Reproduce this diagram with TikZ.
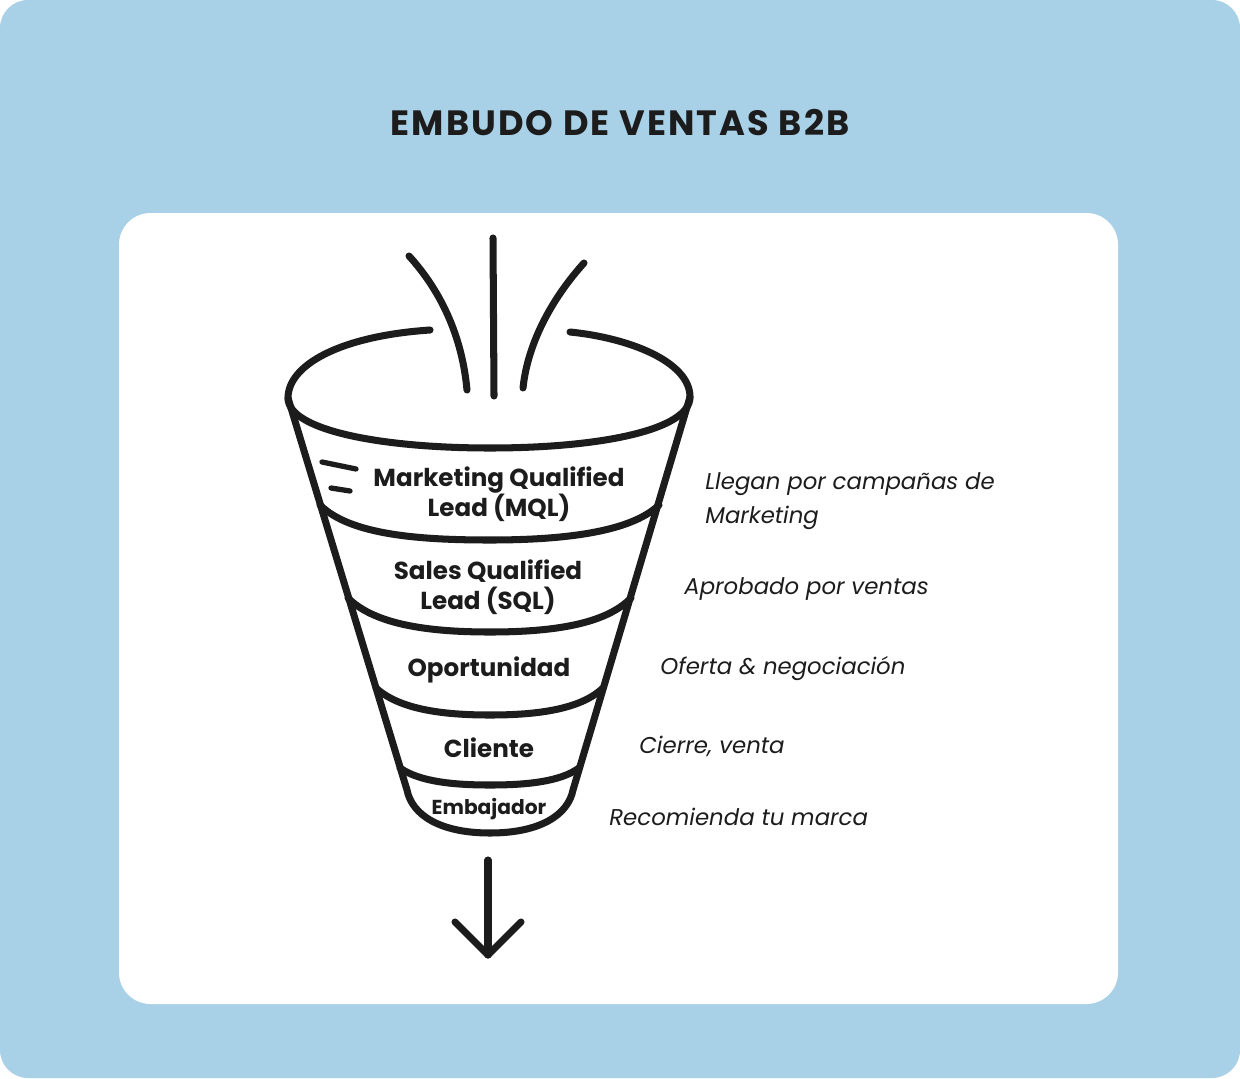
\documentclass[tikz,border=0pt]{standalone}
\usepackage{fontspec}
\setmainfont{Poppins}
\definecolor{skyback}{RGB}{168,208,230}
\definecolor{ink}{RGB}{28,28,28}
\tikzset{
  funnel/.style={draw=ink,line width=4pt,line cap=round,line join=round},
  stage/.style={font=\fontsize{14}{17}\selectfont\bfseries,text=ink,align=center,inner sep=0pt},
  note/.style={font=\fontsize{13}{19}\selectfont\itshape,text=ink,anchor=west,align=left,inner sep=0pt}
}
\begin{document}
\begin{tikzpicture}[x=0.02cm,y=-0.02cm]
	\useasboundingbox (0,0) rectangle (1240,1078);
	\fill[skyback,rounded corners=16] (0,0) rectangle (1240,1078);
	\fill[white,rounded corners=18] (119,213) rectangle (1118,1004);

	\node[font=\fontsize{20}{24}\selectfont\bfseries\addfontfeature{LetterSpace=6},text=ink] (title) at (620,123) {EMBUDO DE VENTAS B2B};

	% rim of the funnel
	\draw[funnel] (430,330) .. controls (340,336) and (288,365) .. (288,398)
		.. controls (288,430) and (380,448) .. (490,448)
		.. controls (600,448) and (690,430) .. (690,397)
		.. controls (690,362) and (630,338) .. (570,332);
	% sides
	\draw[funnel] (288,398) -- (407,790) .. controls (412,815) and (440,833) .. (490,833)
		.. controls (540,833) and (568,815) .. (573,790) -- (690,397);
	% bands
	\draw[funnel] (320,505) .. controls (350,535) and (420,540) .. (490,540) .. controls (560,540) and (630,533) .. (659,505);
	\draw[funnel] (348,598) .. controls (375,625) and (430,632) .. (490,632) .. controls (550,632) and (605,625) .. (631,598);
	\draw[funnel] (376,688) .. controls (400,710) and (445,715) .. (490,715) .. controls (535,715) and (580,710) .. (603,688);
	\draw[funnel] (400,768) .. controls (420,782) and (455,785) .. (490,785) .. controls (525,785) and (560,782) .. (579,768);

	% streams
	\draw[funnel] (493,238) -- (494,396);
	\draw[funnel] (409,256) .. controls (440,290) and (462,335) .. (467,390);
	\draw[funnel] (584,263) .. controls (555,295) and (528,340) .. (523,388);
	\draw[funnel,line width=3pt] (322,462) -- (356,469);
	\draw[funnel,line width=3pt] (331,488) -- (350,491);

	% arrow out
	\coordinate (outtop) at (488,860);
	\coordinate (outtip) at (488,955);
	\draw[funnel] (outtop) -- (outtip);
	\draw[funnel] (455,922) -- (outtip) -- (521,922);

	\node[stage] (mql) at (499,494) {Marketing Qualified\\Lead (MQL)};
	\node[stage] (sql) at (488,587) {Sales Qualified\\Lead (SQL)};
	\node[stage] (opp) at (489,670) {Oportunidad};
	\node[stage] (cli) at (489,748) {Cliente};
	\node[stage,font=\fontsize{11.5}{14}\selectfont\bfseries] (emb) at (489,809) {Embajador};

	\node[note] (nmql) at (705,501) {Llegan por campañas de\\Marketing};
	\node[note] (nsql) at (684,589) {Aprobado por ventas};
	\node[note] (nopp) at (660,669) {Oferta \& negociación};
	\node[note] (ncli) at (639,746) {Cierre, venta};
	\node[note] (nemb) at (609,817) {Recomienda tu marca};
\end{tikzpicture}
\end{document}
